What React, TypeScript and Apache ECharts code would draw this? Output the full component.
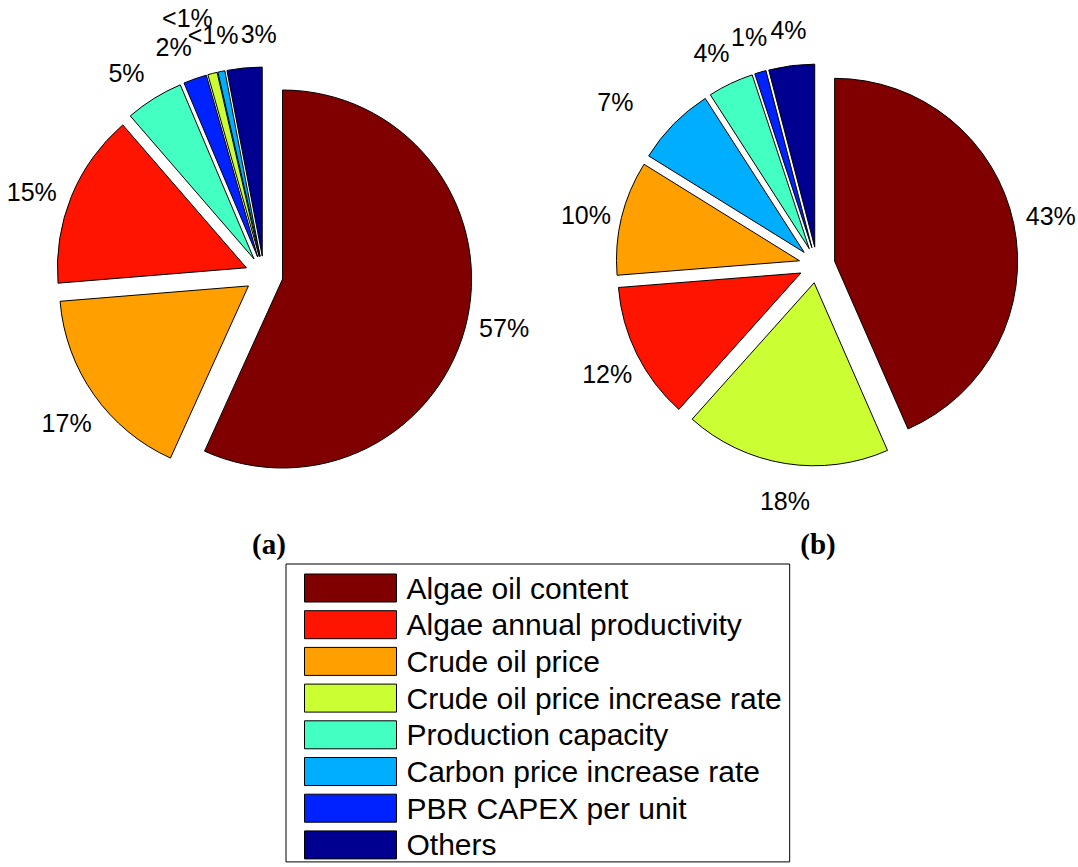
import React, { useEffect, useRef } from "react";
import * as echarts from "echarts";

// Factors, in the legend's order
const factorNames = [
  "Algae oil content",
  "Algae annual productivity",
  "Crude oil price",
  "Crude oil price increase rate",
  "Production capacity",
  "Carbon price increase rate",
  "PBR CAPEX per unit",
  "Others",
];
const factorColors = [
  "#800000",
  "#FF1400",
  "#FFA000",
  "#CCFF33",
  "#44FFC2",
  "#00AEFF",
  "#0022FF",
  "#000090",
];

// (a): slices clockwise from 12 o'clock, share in %
const sliceNamesA = [
  "Algae oil content",
  "Crude oil price",
  "Algae annual productivity",
  "Production capacity",
  "PBR CAPEX per unit",
  "Crude oil price increase rate",
  "Carbon price increase rate",
  "Others",
];
const sliceValuesA = [57, 17, 15, 5, 2, 0.8, 0.6, 3];

// (b): slices clockwise from 12 o'clock, share in %
const sliceNamesB = [
  "Algae oil content",
  "Crude oil price increase rate",
  "Algae annual productivity",
  "Crude oil price",
  "Carbon price increase rate",
  "Production capacity",
  "PBR CAPEX per unit",
  "Others",
];
const sliceValuesB = [43, 18, 12, 10, 7, 4, 1, 4];

const panelTitles = ["(a)", "(b)"];

// pie geometry
const pieA = { cx: 264, cy: 275, r: 189, explode: 19 };
const pieB = { cx: 817, cy: 265, r: 183, explode: 18 };
// hand-placed label adjustments (px) to keep crowded labels apart
const labelShiftA = [[-3, 0], [6, 5], [-2, 11], [-6, 9], [-8, 7], [-15, -16], [0, 3], [18, 7]];
const labelShiftB = [[-2, 0], [6, -2], [6, 2], [3, 7], [-30, 6], [-2, 6], [0, 3], [2, 4]];

const SANS = "Liberation Sans, Arial, Helvetica, sans-serif";
const SERIF = "Liberation Serif, Times New Roman, serif";

function colorOf(name: string) {
  return factorColors[factorNames.indexOf(name)];
}

const pctText = (v: number) => (v < 1 ? "<1%" : `${v}%`);

// exploded slices with black edges
function pieSeries(names: string[], values: number[], g: typeof pieA) {
  return {
    type: "pie",
    center: [g.cx, g.cy],
    radius: [0, g.r],
    startAngle: 90,
    clockwise: true,
    selectedMode: "multiple",
    selectedOffset: g.explode,
    avoidLabelOverlap: false,
    minAngle: 0,
    emphasis: { disabled: true },
    itemStyle: { borderColor: "#000", borderWidth: 1 },
    select: { itemStyle: { borderColor: "#000", borderWidth: 1 } },
    label: { show: false },
    labelLine: { show: false },
    data: names.map((n, i) => ({
      name: n,
      value: values[i],
      selected: true,
      itemStyle: { color: colorOf(n) },
      select: { itemStyle: { color: colorOf(n) } },
    })),
  };
}

// invisible thin ring at 1.3 radii: its centred "inside" labels sit on each slice's bisector
function labelRing(names: string[], values: number[], g: typeof pieA, shifts: number[][]) {
  const rr = 1.3 * g.r;
  return {
    type: "pie",
    center: [g.cx, g.cy],
    radius: [rr - 0.5, rr + 0.5],
    startAngle: 90,
    clockwise: true,
    silent: true,
    selectedMode: false,
    avoidLabelOverlap: false,
    minAngle: 0,
    minShowLabelAngle: 0,
    emphasis: { disabled: true },
    itemStyle: { color: "rgba(0,0,0,0)", borderWidth: 0 },
    label: {
      show: true,
      position: "inside",
      rotate: 0,
      fontFamily: SANS,
      fontSize: 25,
      color: "#000",
      formatter: (p: any) => pctText(p.value),
    },
    labelLine: { show: false },
    labelLayout: { hideOverlap: false },
    data: names.map((n, i) => ({
      name: n,
      value: values[i],
      label: { offset: shifts[i] },
    })),
  };
}

export default function App() {
  const ref = useRef<HTMLDivElement>(null);

  useEffect(() => {
    if (!ref.current) return;
    const chart = echarts.init(ref.current, undefined, { renderer: "svg" });
    chart.setOption({
      animation: false,
      backgroundColor: "#fff",
      legend: {
        orient: "vertical",
        left: 286,
        top: 564,
        data: factorNames,
        selectedMode: false,
        icon: "rect",
        itemWidth: 92,
        itemHeight: 28,
        itemGap: 6.7,
        padding: [9, 8, 2, 18],
        borderColor: "#000",
        borderWidth: 1,
        itemStyle: { borderColor: "#000", borderWidth: 1 },
        textStyle: {
          fontFamily: SANS,
          fontSize: 30,
          color: "#000",
          padding: [0, 0, 0, 5],
        },
      },
      graphic: [
        {
          type: "text",
          x: 269,
          y: 544,
          style: {
            text: panelTitles[0],
            font: `bold 29px ${SERIF}`,
            fill: "#000",
            textAlign: "center",
            textVerticalAlign: "middle",
          },
        },
        {
          type: "text",
          x: 818,
          y: 544,
          style: {
            text: panelTitles[1],
            font: `bold 29px ${SERIF}`,
            fill: "#000",
            textAlign: "center",
            textVerticalAlign: "middle",
          },
        },
      ],
      series: [
        pieSeries(sliceNamesA, sliceValuesA, pieA),
        pieSeries(sliceNamesB, sliceValuesB, pieB),
        labelRing(sliceNamesA, sliceValuesA, pieA, labelShiftA),
        labelRing(sliceNamesB, sliceValuesB, pieB, labelShiftB),
      ],
    });
    return () => chart.dispose();
  }, []);

  return (
    <div
      ref={ref}
      style={{ position: "absolute", left: 0, top: 0, width: 1078, height: 867 }}
    />
  );
}
